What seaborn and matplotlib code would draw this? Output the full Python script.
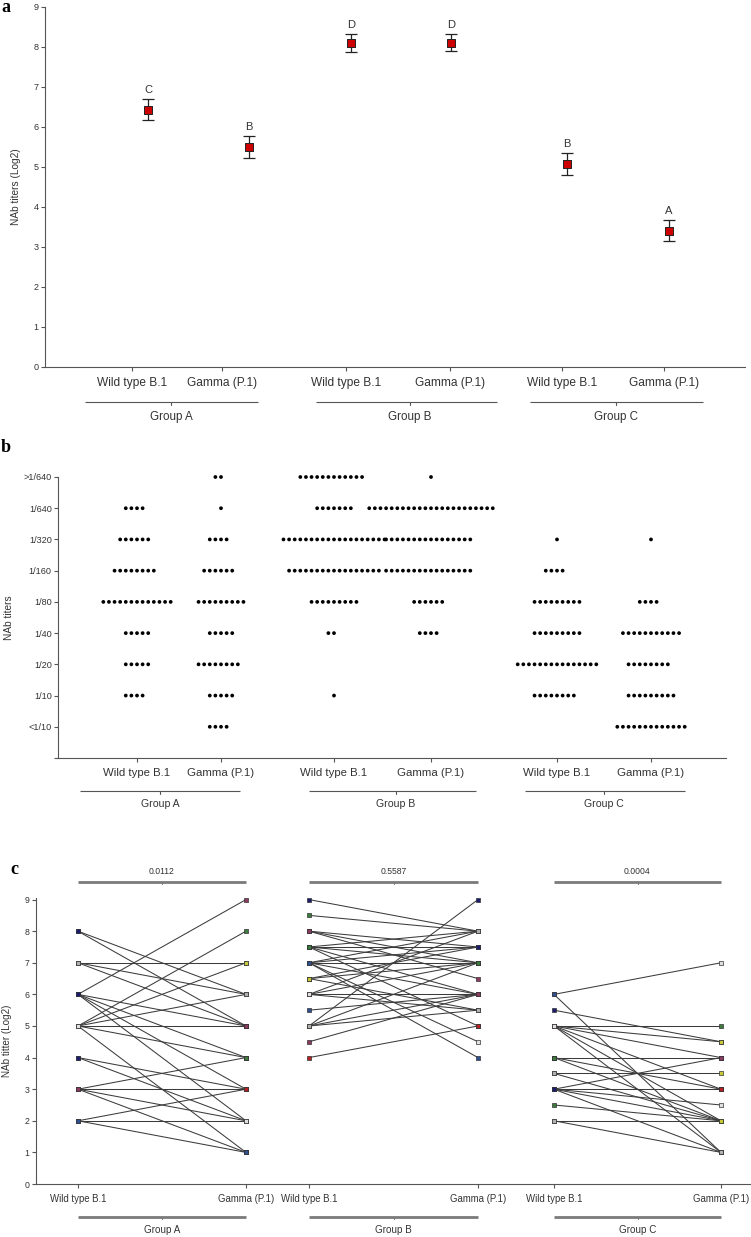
import numpy as np
import pandas as pd
import matplotlib
matplotlib.use("Agg")
import matplotlib.pyplot as plt
from matplotlib.lines import Line2D
import seaborn as sns

sns.set_theme(style="ticks")
REG = ["Liberation Sans", "DejaVu Sans"]
plt.rcParams["font.family"] = REG

# ---------------- data ----------------
variants = ["Wild type B.1", "Gamma (P.1)"]
groups = ["Group A", "Group B", "Group C"]

# panel a: mean NAb titers (log2) with error bars
a_mean = [6.43, 5.49, 8.11, 8.11, 5.08, 3.41]
a_lo = [6.17, 5.22, 7.87, 7.89, 4.80, 3.15]
a_hi = [6.70, 5.77, 8.33, 8.32, 5.35, 3.67]
a_letters = ["C", "B", "D", "D", "B", "A"]

# panel b: number of sera per titer level
b_levels = ["<1/10", "1/10", "1/20", "1/40", "1/80", "1/160", "1/320", "1/640", ">1/640"]
b_A_wt = [0, 4, 5, 5, 13, 8, 6, 4, 0]
b_A_g = [4, 5, 8, 5, 9, 6, 4, 1, 2]
b_B_wt = [0, 1, 0, 2, 9, 17, 19, 7, 12]
b_B_g = [0, 0, 0, 4, 6, 16, 16, 23, 1]
b_C_wt = [0, 8, 15, 9, 9, 4, 1, 0, 0]
b_C_g = [13, 9, 8, 11, 4, 0, 1, 0, 0]

# panel c: paired titers (log2), wild type -> gamma
c_A_wt = [8, 8, 7, 7, 7, 6, 6, 6, 6, 6, 5, 5, 5, 5, 5, 5, 4, 4, 3, 3, 3, 3, 2, 2, 2]
c_A_g = [6, 5, 7, 6, 5, 9, 5, 4, 3, 2, 8, 7, 6, 5, 4, 1, 3, 2, 4, 3, 2, 1, 3, 2, 1]
c_B_wt = [9, 8.5, 8, 8, 8, 7.5, 7.5, 7.5, 7.5, 7.5, 7, 7, 7, 7, 7, 7, 6.5, 6.5, 6.5,
          6, 6, 6, 6, 5.5, 5, 5, 5, 5, 4.5, 4]
c_B_g = [8, 8, 7.5, 7, 6.5, 8, 7.5, 7, 6, 5, 8, 7.5, 7, 6, 4.5, 4, 7.5, 7, 5.5,
         8, 7, 6, 5.5, 6, 9, 7, 6, 5.5, 6, 5]
c_C_wt = [6, 6, 5.5, 5, 5, 5, 5, 5, 5, 4, 4, 4, 3.5, 3.5, 3, 3, 3, 3, 3, 2.5, 2, 2]
c_C_g = [7, 1, 4.5, 5, 4.5, 4, 3, 2, 1, 4, 3, 2, 3.5, 2, 4, 3, 2.5, 2, 1, 2, 2, 1]
p_values = ["0.0112", "0.5587", "0.0004"]

# ---------------- layout (pixels) ----------------
W, H = 751, 1237
AX = "#555555"
TXT = "#333333"
fig = plt.figure(figsize=(W / 100, H / 100), dpi=100)


def ax_px(x0, y0, x1, y1):
    return fig.add_axes([x0 / W, 1 - y1 / H, (x1 - x0) / W, (y1 - y0) / H])


def fx(x):
    return x / W


def fy(y):
    return 1 - y / H


def fline(x0, x1, y, lw=0.8, color=AX, tick=None, tick_len=3):
    fig.add_artist(Line2D([fx(x0), fx(x1)], [fy(y), fy(y)], transform=fig.transFigure,
                          lw=lw, color=color, solid_capstyle="butt"))
    if tick is not None:
        fig.add_artist(Line2D([fx(tick)] * 2, [fy(y), fy(y + tick_len)], transform=fig.transFigure,
                              lw=0.8, color=color))


def style(ax, ysize=6.5, xsize=8.5):
    for s in ["top", "right"]:
        ax.spines[s].set_visible(False)
    for s in ["left", "bottom"]:
        ax.spines[s].set_color(AX)
        ax.spines[s].set_linewidth(0.8)
    ax.tick_params(axis="both", direction="out", length=3, width=0.8, color=AX,
                   labelcolor=TXT, bottom=True, left=True)
    ax.tick_params(axis="x", pad=4)
    ax.tick_params(axis="y", pad=1.5)
    for lab in ax.get_yticklabels():
        lab.set_fontsize(ysize)
    for lab in ax.get_xticklabels():
        lab.set_fontsize(xsize)
    ax.set_facecolor("none")
    ax.grid(False)


# ================= panel a =================
A_TICKS = [132, 222, 346, 450, 562, 664]
A_PTS = [148, 249, 351, 451, 567, 669]
axa = ax_px(45, 7, 745, 367)
yerr = [np.array(a_mean) - np.array(a_lo), np.array(a_hi) - np.array(a_mean)]
axa.errorbar(A_PTS, a_mean, yerr=yerr, fmt="none", ecolor="#222222", elinewidth=0.9,
             capsize=4.0, capthick=0.9, zorder=2)
sns.scatterplot(x=A_PTS, y=a_mean, marker="s", s=26, color="#cc0000", edgecolor="#222222",
                linewidth=0.7, zorder=3, ax=axa, legend=False)
for x, hi, let in zip(A_PTS, a_hi, a_letters):
    axa.text(x, hi + 0.1, let, ha="center", va="bottom", fontsize=8, color=TXT)
axa.set_xlim(45, 745)
axa.set_ylim(0, 9)
axa.set_yticks(range(10))
axa.set_xticks(A_TICKS)
axa.set_xticklabels(variants * 3)
axa.set_ylabel("NAb titers (Log2)", fontsize=7.3, color=TXT, labelpad=9)
style(axa, ysize=6.5, xsize=8.6)

for (x0, x1, xt), g in zip([(85, 258, 171), (316, 497, 410), (530, 703, 616)], groups):
    fline(x0, x1, 402, lw=0.8, tick=xt)
    fig.text(fx(xt), fy(417), g, ha="center", va="center", fontsize=8.4, color=TXT)

# ================= panel b =================
XU = 200.0
B_TICKS = [137, 221, 334, 431, 557, 651]
axb = ax_px(58, 477, 726, 758)
b_all = [b_A_wt, b_A_g, b_B_wt, b_B_g, b_C_wt, b_C_g]
for pos, counts in zip(B_TICKS, b_all):
    lv = np.repeat(np.arange(1, len(b_levels) + 1), counts)
    dfb = pd.DataFrame({"pos": np.full(len(lv), pos / XU), "level": lv})
    sns.swarmplot(data=dfb, x="pos", y="level", native_scale=True, orient="x",
                  color="black", size=2.7, linewidth=1.15, edgecolor="none", ax=axb)
for coll in axb.collections:
    coll.set_clip_on(False)
axb.set_xlim(58 / XU, 726 / XU)
axb.set_ylim(0, 9)
axb.set_yticks(range(10))
axb.set_yticklabels([""] + b_levels)
axb.set_xticks([p / XU for p in B_TICKS])
axb.set_xticklabels(variants * 3)
axb.set_xlabel("")
axb.set_ylabel("NAb titers", fontsize=7.3, color=TXT, labelpad=7)
style(axb, ysize=6.6, xsize=8.2)

for (x0, x1, xt), g in zip([(80, 240, 160), (309, 476, 396), (525, 685, 604)], groups):
    fline(x0, x1, 791, lw=0.8, tick=xt)
    fig.text(fx(xt), fy(804), g, ha="center", va="center", fontsize=7.6, color=TXT)

# ================= panel c =================
C_TICKS = [78, 246, 309, 478, 554, 721]
axc = ax_px(36, 898, 751, 1184)
pairs = [(c_A_wt, c_A_g), (c_B_wt, c_B_g), (c_C_wt, c_C_g)]
rows = []
sid = 0
for gi, (wt, gm) in enumerate(pairs):
    for a, b in zip(wt, gm):
        rows.append({"subject": sid, "x": C_TICKS[2 * gi], "titer": a})
        rows.append({"subject": sid, "x": C_TICKS[2 * gi + 1], "titer": b})
        sid += 1
dfc = pd.DataFrame(rows)
sns.lineplot(data=dfc, x="x", y="titer", units="subject", estimator=None,
             color="#3c3c3c", lw=0.75, ax=axc, legend=False)
marker_cols = ["#2f4f8f", "#1c1c6e", "#3d7a3d", "#c8c83c", "#b0b0b0",
               "#8b3a62", "#b22222", "#e0e0e0"]
pal = {s: marker_cols[s % len(marker_cols)] for s in dfc["subject"].unique()}
sns.scatterplot(data=dfc, x="x", y="titer", hue="subject", palette=pal, marker="s", s=8,
                edgecolor="#333333", linewidth=0.5, legend=False, zorder=3, clip_on=False,
                ax=axc)
axc.set_xlim(36, 751)
axc.set_ylim(0, 9.05)
axc.set_yticks(range(10))
axc.set_xticks(C_TICKS)
axc.set_xticklabels(variants * 3)
axc.set_xlabel("")
axc.set_ylabel("NAb titter (Log2)", fontsize=7.1, color=TXT, labelpad=9)
style(axc, ysize=6.3, xsize=6.9)

for i, (g, p) in enumerate(zip(groups, p_values)):
    x0, x1 = C_TICKS[2 * i], C_TICKS[2 * i + 1]
    xm = (x0 + x1) / 2
    fline(x0, x1, 882, lw=2.0, color="#7a7a7a", tick=xm, tick_len=2)
    fig.text(fx(xm), fy(872), p, ha="center", va="center", fontsize=6.2, color=TXT)
    fline(x0, x1, 1217, lw=2.0, color="#7a7a7a", tick=xm, tick_len=2)
    fig.text(fx(xm), fy(1230), g, ha="center", va="center", fontsize=7.1, color=TXT)

# panel letters
for lab, (x, y) in zip(["a", "b", "c"], [(1, 8), (1, 448), (10, 870)]):
    fig.text(fx(x), fy(y), lab, ha="left", va="center", fontsize=13, fontweight="bold",
             family=["Liberation Serif", "DejaVu Serif"], color="black")

fig.savefig("out.png", dpi=100, facecolor="white")
